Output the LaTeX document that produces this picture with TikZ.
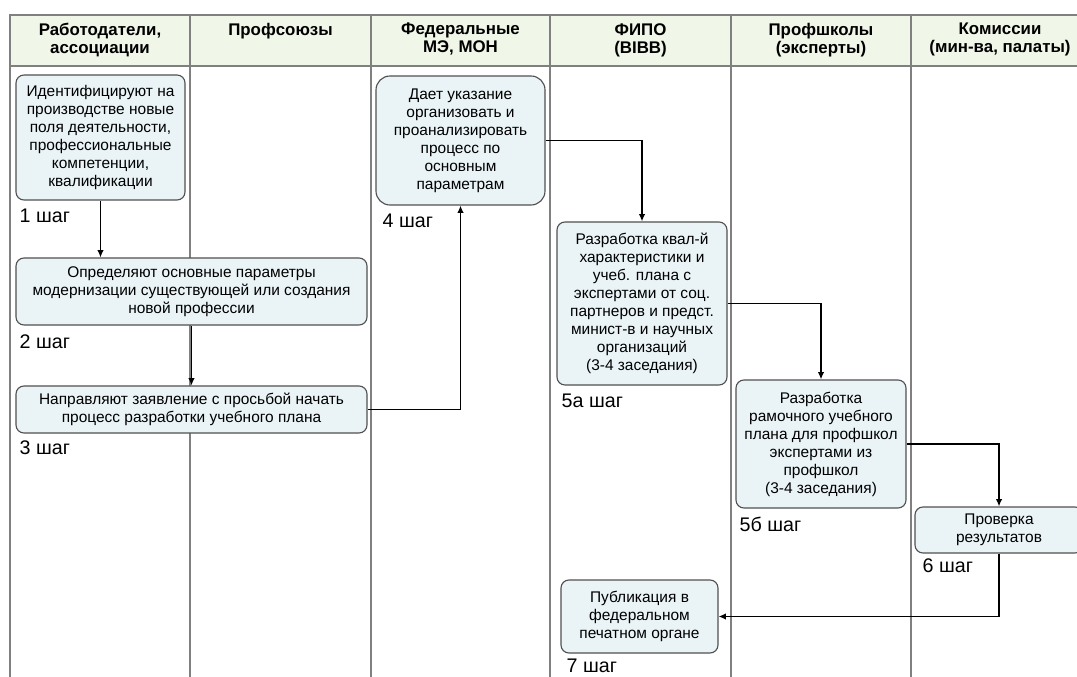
\documentclass[tikz,border=0pt]{standalone}
\usepackage{fontspec}
\setmainfont{Liberation Sans}
\usetikzlibrary{arrows.meta,positioning}
\definecolor{headfill}{HTML}{F0F6E8}
\definecolor{boxfill}{HTML}{EAF4F7}
\definecolor{boxline}{HTML}{505050}
\definecolor{laneline}{HTML}{808080}
\tikzset{%
    >={Latex[length=1.8mm,width=1.6mm]},
    stepbox/.style={draw=boxline, line width=0.8pt, fill=boxfill, rounded corners=2mm,
        align=center, inner sep=0pt, font=\fontsize{11}{12.8}\selectfont},
    steplabel/.style={inner sep=0pt, font=\fontsize{14}{16}\selectfont},
    lanehead/.style={inner sep=0pt, align=center, anchor=north,
        font=\bfseries\fontsize{12}{12.8}\selectfont},
    lane/.style={draw=laneline, line width=1pt},
    flow/.style={->, line width=1.4pt}
}

\begin{document}
\begin{tikzpicture}[x=0.25mm, y=-0.25mm]
        \useasboundingbox (0,0) rectangle (1077,677);

        \draw[lane, fill=headfill] (10,15) rectangle (1090,66);
        \foreach \x in {10,190,371,550,731,911}
            \draw[lane] (\x,15) -- (\x,677);

        \node[lanehead] (h1) at (100,23) {Работодатели,\\ассоциации};
        \node[lanehead] (h2) at (280.5,23) {Профсоюзы};
        \node[lanehead] (h3) at (460.5,23) {Федеральные\\МЭ, МОН};
        \node[lanehead] (h4) at (640.5,23) {ФИПО\\(BIBB)};
        \node[lanehead] (h5) at (821,23) {Профшколы\\(эксперты)};
        \node[lanehead] (h6) at (1000,23) {Комиссии\\(мин-ва, палаты)};

        \node[stepbox, minimum width=42.25mm, minimum height=31.25mm] (box1) at (100.5,137.5)
            {Идентифицируют на\\производстве новые\\поля деятельности,\\профессиональные\\компетенции,\\квалификации};
        \node[stepbox, minimum width=87.75mm, minimum height=16.75mm] (box2) at (191.5,291.5)
            {Определяют основные параметры\\модернизации существующей или создания\\новой профессии};
        \node[stepbox, minimum width=87.75mm, minimum height=11.75mm] (box3) at (191.5,409.5)
            {Направляют заявление с просьбой начать\\процесс разработки учебного плана};
        \node[stepbox, rounded corners=3.5mm, minimum width=42.25mm, minimum height=32.25mm] (box4) at (460.5,140.5)
            {Дает указание\\организовать и\\проанализировать\\процесс по\\основным\\параметрам};
        \node[stepbox, minimum width=42.5mm, minimum height=40.75mm] (box5a) at (642,303.5)
            {Разработка квал-й\\характеристики и\\учеб. плана с\\экспертами от соц.\\партнеров и предст.\\минист-в и научных\\организаций\\(3-4 заседания)};
        \node[stepbox, minimum width=42.5mm, minimum height=32mm] (box5b) at (821,444)
            {Разработка\\рамочного учебного\\плана для профшкол\\экспертами из\\профшкол\\(3-4 заседания)};
        \node[stepbox, minimum width=42mm, minimum height=11.5mm] (box6) at (999,530)
            {Проверка\\результатов};
        \node[stepbox, minimum width=39.25mm, minimum height=18.25mm] (box7) at (639.5,616.5)
            {Публикация в\\федеральном\\печатном органе};

        \node[steplabel, below right=2mm and 1mm of box1.south west] (s1) {1 шаг};
        \node[steplabel, below right=2.2mm and 1mm of box2.south west] (s2) {2 шаг};
        \node[steplabel, below right=1.8mm and 1mm of box3.south west] (s3) {3 шаг};
        \node[steplabel, below right=2mm and 1.75mm of box4.south west] (s4) {4 шаг};
        \node[steplabel, below right=2mm and 1.25mm of box5a.south west] (s5a) {5а шаг};
        \node[steplabel, below right=2mm and 1mm of box5b.south west] (s5b) {5б шаг};
        \node[steplabel, below right=1.2mm and 2mm of box6.south west] (s6) {6 шаг};
        \node[steplabel, below right=1.4mm and 1.5mm of box7.south west] (s7) {7 шаг};

        \draw[flow] (box1.south) -- (box1.south |- box2.north);
        \draw[flow] (box2.south) -- (box3.north);
        \draw[flow] (box3.east) -| (box4.south);
        \draw[flow] (box4.east) -| (box5a.north);
        \draw[flow] (box5a.east) -| (box5b.north);
        \draw[flow] (box5b.east) -| (box6.north);
        \draw[flow] (box6.south) |- (box7.east);
    \end{tikzpicture}
\end{document}
